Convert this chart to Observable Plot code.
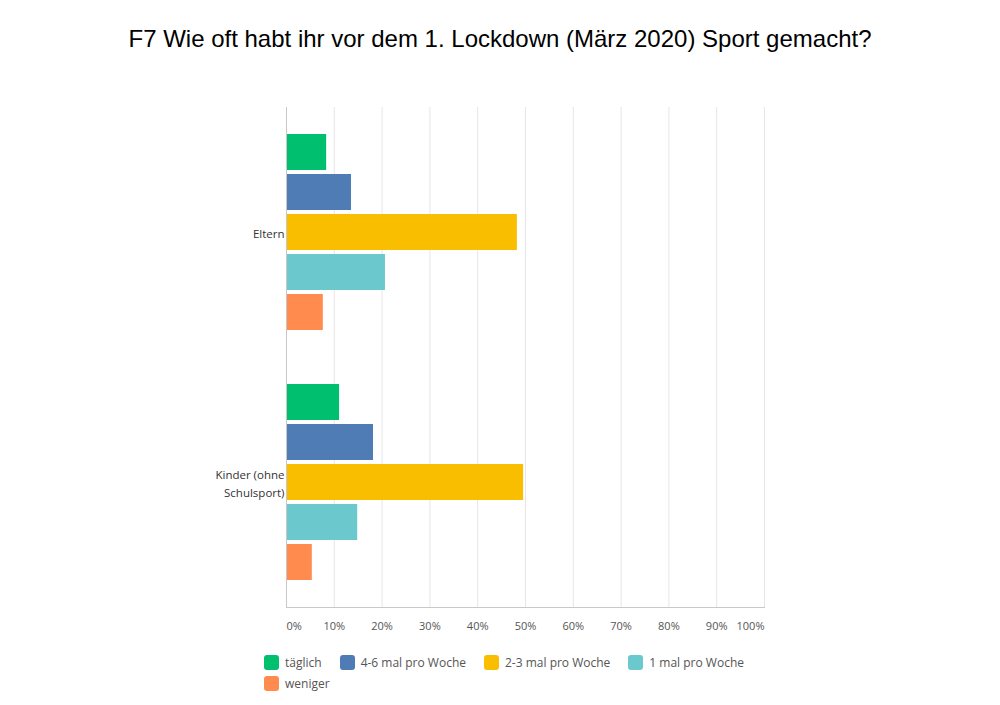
<!DOCTYPE html>
<html>
<head>
<meta charset="utf-8">
<script src="https://cdn.jsdelivr.net/npm/d3@7"></script>
<script src="https://cdn.jsdelivr.net/npm/@observablehq/plot@0.6"></script>
<style>
  html, body { margin: 0; padding: 0; background: #fff; }
  #title { height: 80px; font: 24px "Liberation Sans", Arial, sans-serif; line-height: 78px; text-align: center; color: #000; }
  #legend { margin: 12px 0 0 264px; width: 500px; display: flex; flex-wrap: wrap; font: 12px "Open Sans", sans-serif; color: #555; }
  .item { display: flex; align-items: center; height: 21px; margin-right: 18px; }
  .sw { width: 15px; height: 15px; border-radius: 3px; margin-right: 6px; }
</style>
</head>
<body>
<div id="title">F7 Wie oft habt ihr vor dem 1. Lockdown (März 2020) Sport gemacht?</div>
<div id="chart"></div>
<div id="legend"></div>
<script>
const groups = ["Eltern", "Kinder (ohne Schulsport)"];
const groupTickLabels = ["Eltern", "Kinder (ohne\nSchulsport)"];
const answers = ["täglich", "4-6 mal pro Woche", "2-3 mal pro Woche", "1 mal pro Woche", "weniger"];
const colors = ["#00BF6F", "#507CB6", "#F9BE00", "#6BC8CD", "#FF8B4F"];
const elternValues = [8.4, 13.6, 48.3, 20.7, 7.7];
const kinderValues = [11.1, 18.2, 49.6, 14.9, 5.4];
const xTicks = [0, 10, 20, 30, 40, 50, 60, 70, 80, 90, 100];

const data = [];
answers.forEach((a, i) => {
  data.push({group: groups[0], answer: a, value: elternValues[i]});
  data.push({group: groups[1], answer: a, value: kinderValues[i]});
});

const labelOf = new Map(groups.map((g, i) => [g, groupTickLabels[i]]));
const font = "'Open Sans', sans-serif";

const chart = Plot.plot({
  width: 1000,
  height: 560,
  marginTop: 27,
  marginBottom: 33,
  marginLeft: 286,
  marginRight: 236,
  style: {fontFamily: font, background: "#fff"},
  x: {domain: [0, 100]},
  y: {domain: answers, axis: null, paddingInner: 0.1, paddingOuter: 0.675},
  fy: {domain: groups, padding: 0},
  color: {domain: answers, range: colors},
  marks: [
    Plot.gridX({ticks: xTicks, stroke: "#e6e6e6", strokeOpacity: 1}),
    Plot.barX(data, {x: "value", y: "answer", fy: "group", fill: "answer"}),
    Plot.ruleX([0], {stroke: "#c8c8c8"}),
    Plot.frame({anchor: "bottom", facetAnchor: "bottom", stroke: "#c8c8c8"}),
    Plot.axisX({ticks: xTicks.slice(1, -1), tickSize: 0, tickPadding: 15, tickFormat: d => d + "%", fontSize: 11, color: "#555", label: null}),
    Plot.axisX({ticks: xTicks.slice(0, 1), tickSize: 0, tickPadding: 15, tickFormat: d => d + "%", fontSize: 11, color: "#555", label: null, textAnchor: "start"}),
    Plot.axisX({ticks: xTicks.slice(-1), tickSize: 0, tickPadding: 15, tickFormat: d => d + "%", fontSize: 11, color: "#555", label: null, textAnchor: "end"}),
    Plot.axisFy({anchor: "left", tickSize: 0, tickPadding: 2, lineHeight: 1.5, fontSize: 11.5, color: "#333", label: null, tickFormat: d => labelOf.get(d)})
  ]
});
document.getElementById("chart").appendChild(chart);

const legend = document.getElementById("legend");
answers.forEach((a, i) => {
  const item = document.createElement("div");
  item.className = "item";
  const sw = document.createElement("span");
  sw.className = "sw";
  sw.style.background = colors[i];
  const t = document.createElement("span");
  t.textContent = a;
  item.appendChild(sw);
  item.appendChild(t);
  legend.appendChild(item);
});
</script>
</body>
</html>
